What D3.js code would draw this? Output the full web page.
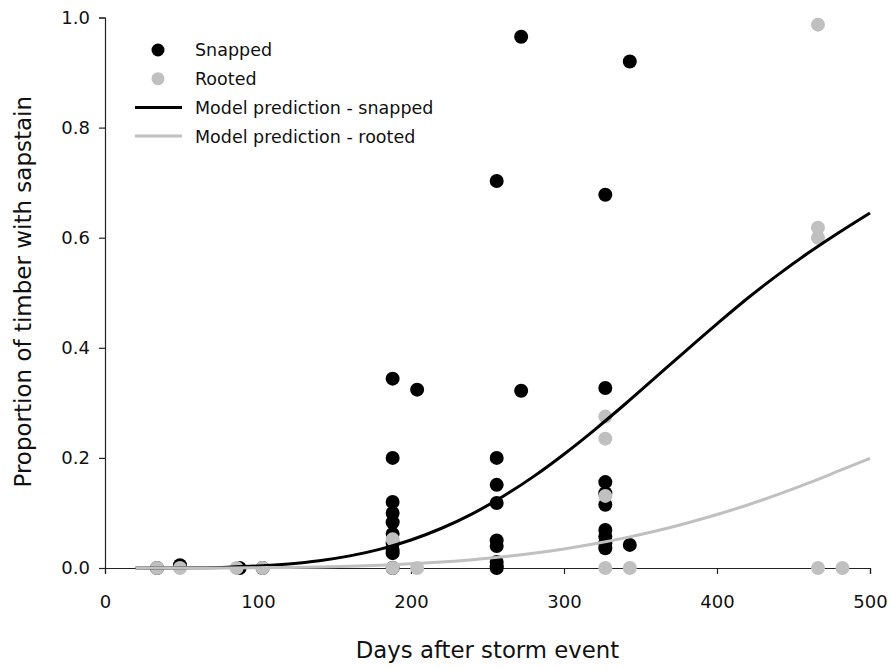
<!DOCTYPE html>
<html>
<head>
<meta charset="utf-8">
<script src="https://cdn.jsdelivr.net/npm/d3@7"></script>
<style>
  html, body { margin: 0; padding: 0; background: #ffffff; }
  svg { display: block; font-family: "DejaVu Sans", Verdana, sans-serif; }
</style>
</head>
<body>
<svg id="chart" width="891" height="669"></svg>
<script>
// Observed proportions: days after the storm and the share of timber with sapstain
const snappedDays = [34, 49, 88, 103,
  188, 188, 188, 188, 188, 188, 188, 188, 188, 188,
  204,
  256, 256, 256, 256, 256, 256, 256, 256, 256,
  272, 272,
  327, 327, 327, 327, 327, 327, 327, 327, 327,
  343, 343];
const snappedValues = [0, 0.005, 0, 0,
  0.344, 0.200, 0.120, 0.100, 0.083, 0.062, 0.045, 0.033, 0.027, 0,
  0.324,
  0.703, 0.200, 0.151, 0.118, 0.050, 0.040, 0.011, 0.003, 0,
  0.965, 0.322,
  0.678, 0.327, 0.156, 0.136, 0.115, 0.069, 0.057, 0.045, 0.036,
  0.920, 0.042];

const rootedDays = [34, 49, 86, 103, 188, 188, 204, 327, 327, 327, 327, 343, 466, 466, 466, 466, 482];
const rootedValues = [0, 0, 0, 0, 0.052, 0, 0, 0.275, 0.235, 0.131, 0, 0, 0.987, 0.618, 0.600, 0, 0];

// Fitted model curves, sampled every 20 days
const modelDays = [20, 40, 60, 80, 100, 120, 140, 160, 180, 200, 220, 240, 260,
  280, 300, 320, 340, 360, 380, 400, 420, 440, 460, 480, 500];
const modelSnapped = [0.0000, 0.0001, 0.0005, 0.0015, 0.0036, 0.0073, 0.0132, 0.0220,
  0.0343, 0.0509, 0.0722, 0.0984, 0.1298, 0.1660, 0.2067, 0.2510, 0.2979, 0.3467,
  0.3955, 0.4435, 0.4900, 0.5330, 0.5730, 0.6100, 0.6450];
const modelRooted = [0.0000, 0.0000, 0.0001, 0.0002, 0.0006, 0.0011, 0.0020, 0.0033,
  0.0051, 0.0077, 0.0110, 0.0152, 0.0205, 0.0269, 0.0347, 0.0440, 0.0547, 0.0671,
  0.0813, 0.0971, 0.1145, 0.1337, 0.1546, 0.1767, 0.1990];

const xTicks = [0, 100, 200, 300, 400, 500];
const yTicks = [0, 0.2, 0.4, 0.6, 0.8, 1.0];

const legendItems = [
  { label: "Snapped", kind: "dot", color: "#000000" },
  { label: "Rooted", kind: "dot", color: "#c0c0c0" },
  { label: "Model prediction - snapped", kind: "line", color: "#000000" },
  { label: "Model prediction - rooted", kind: "line", color: "#c0c0c0" }
];

const svg = d3.select("#chart");
const plot = { left: 105, right: 870, top: 17.5, bottom: 568 };

const x = d3.scaleLinear().domain([0, 500]).range([plot.left, plot.right]);
const y = d3.scaleLinear().domain([0, 1]).range([plot.bottom, plot.top]);

// Axes
const xAxis = svg.append("g")
  .attr("transform", `translate(0,${plot.bottom})`)
  .call(d3.axisBottom(x).tickValues(xTicks).tickFormat(d3.format("d")).tickSize(6).tickPadding(21));
const yAxis = svg.append("g")
  .attr("transform", `translate(${plot.left},0)`)
  .call(d3.axisLeft(y).tickValues(yTicks).tickFormat(d3.format(".1f")).tickSize(6).tickPadding(9));

[xAxis, yAxis].forEach(g => {
  g.select(".domain").attr("stroke", "#222").attr("stroke-width", 1.2);
  g.selectAll(".tick line").attr("stroke", "#222").attr("stroke-width", 1.2);
  g.selectAll(".tick text").attr("fill", "#111").style("font-size", "18px")
    .style("font-family", "'DejaVu Sans', Verdana, sans-serif");
});

// Axis titles
svg.append("text")
  .attr("x", (plot.left + plot.right) / 2)
  .attr("y", 658)
  .attr("text-anchor", "middle")
  .style("font-size", "22.8px")
  .attr("fill", "#111")
  .text("Days after storm event");

svg.append("text")
  .attr("transform", `translate(31,${(plot.top + plot.bottom) / 2 - 1}) rotate(-90)`)
  .attr("text-anchor", "middle")
  .style("font-size", "23px")
  .attr("fill", "#111")
  .text("Proportion of timber with sapstain");

// Observed points
const r = 7;
svg.append("g").selectAll("circle")
  .data(d3.zip(snappedDays, snappedValues))
  .join("circle")
  .attr("cx", d => x(d[0]))
  .attr("cy", d => y(d[1]))
  .attr("r", r)
  .attr("fill", "#000000");

svg.append("g").selectAll("circle")
  .data(d3.zip(rootedDays, rootedValues))
  .join("circle")
  .attr("cx", d => x(d[0]))
  .attr("cy", d => y(d[1]))
  .attr("r", r)
  .attr("fill", "#c0c0c0");

// Model curves
const line = d3.line()
  .x(d => x(d[0]))
  .y(d => y(d[1]))
  .curve(d3.curveMonotoneX);

svg.append("path")
  .datum(d3.zip(modelDays, modelSnapped))
  .attr("d", line)
  .attr("fill", "none")
  .attr("stroke", "#000000")
  .attr("stroke-width", 3);

svg.append("path")
  .datum(d3.zip(modelDays, modelRooted))
  .attr("d", line)
  .attr("fill", "none")
  .attr("stroke", "#c0c0c0")
  .attr("stroke-width", 3);

// Legend
const legend = svg.append("g").attr("transform", "translate(135,50)");
const rowGap = 28.7;
legendItems.forEach((item, i) => {
  const row = legend.append("g").attr("transform", `translate(0,${i * rowGap})`);
  if (item.kind === "dot") {
    row.append("circle").attr("cx", 23).attr("cy", 0).attr("r", 6.5).attr("fill", item.color);
  } else {
    row.append("line").attr("x1", 0).attr("x2", 47).attr("y1", 0).attr("y2", 0)
      .attr("stroke", item.color).attr("stroke-width", 3);
  }
  row.append("text")
    .attr("x", 60)
    .attr("y", 0)
    .attr("dy", "0.37em")
    .style("font-size", "17.5px")
    .attr("fill", "#111")
    .text(item.label);
});
</script>
</body>
</html>
